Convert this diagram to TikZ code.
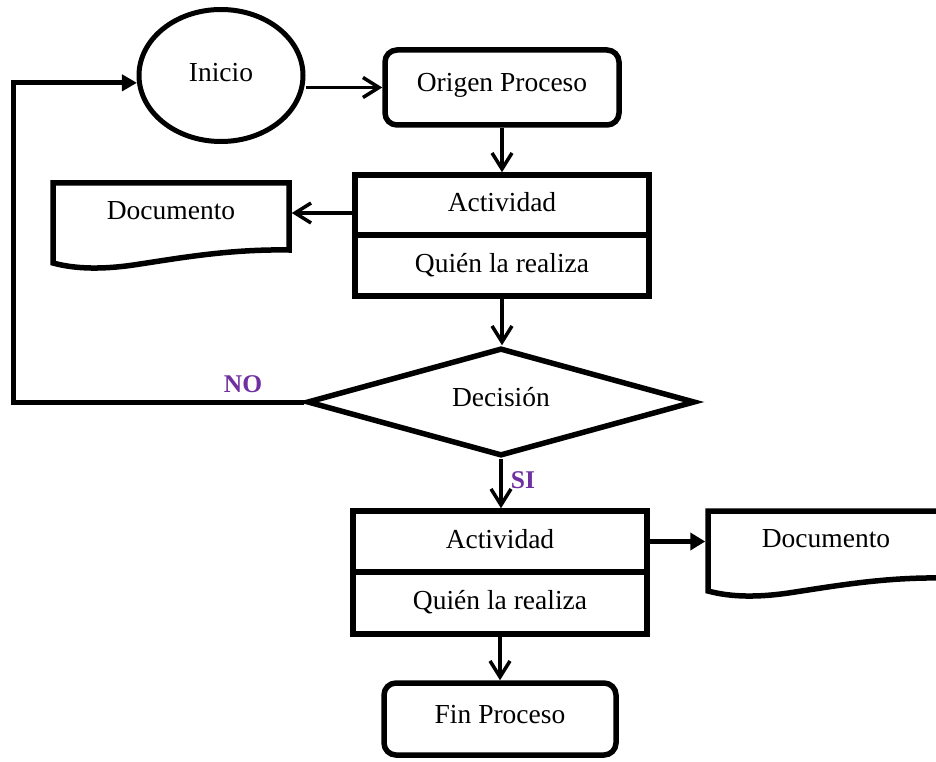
\documentclass[tikz,border=0pt]{standalone}
\usepackage{fontspec}
\setmainfont{Liberation Serif}
\usetikzlibrary{shapes.geometric,arrows.meta}
\definecolor{answerpurple}{HTML}{7030A0}
\tikzset{
  box/.style={draw, line width=5.5pt, inner sep=0pt,
    font=\fontsize{27.5}{33}\selectfont, text height=19pt, text depth=6pt},
  roundbox/.style={box, rounded corners=12pt, minimum width=234pt,
    minimum height=75pt, text depth=10pt},
  actbox/.style={box, minimum width=294pt, minimum height=61pt},
  startoval/.style={box, ellipse, line width=5pt, minimum width=164pt,
    minimum height=132pt},
  choice/.style={box, diamond, shape aspect=3.6, minimum width=388pt,
    minimum height=108pt, text depth=10pt},
  doclabel/.style={inner sep=0pt, outer sep=2.75pt, minimum width=236pt,
    minimum height=60pt, font=\fontsize{27.5}{33}\selectfont,
    text height=19pt, text depth=6pt},
  docline/.style={line width=5.5pt},
  flow/.style={line width=3.5pt, -{Straight Barb[length=16pt,width=20pt]}},
  heavyflow/.style={line width=5pt, -{Triangle[length=15pt,width=16pt]}},
  answer/.style={font=\bfseries\fontsize{25.5}{30}\selectfont, text=answerpurple},
  docshape/.pic={
    \draw[docline] (0,80) -- (0,0) -- (236,0) -- (236,67)
      .. controls (177,66) and (127,75) .. (87,81)
      .. controls (50,87) and (22,86) .. (0,80) -- cycle;
  }
}
\begin{document}
\begin{tikzpicture}[x=1pt,y=-1pt]
  \path[use as bounding box] (0,0) rectangle (936,762);
  \clip (0,0) rectangle (936,762);

  % process shapes
  \node[startoval] (inicio) at (221,75.5) {Inicio};
  \node[roundbox] (origen) at (502,87.5) {Origen Proceso};
  \node[actbox, minimum height=60pt] (act1) at (502,205) {Actividad};
  \node[actbox] (who1) at (502,265.5) {Quién la realiza};
  \node[choice] (dec) at (501,402) {Decisión};
  \node[actbox] (act2) at (500,541.5) {Actividad};
  \node[actbox, minimum height=62pt] (who2) at (500,603) {Quién la realiza};
  \node[roundbox, minimum width=232pt, minimum height=72pt] (fin) at (500,719) {Fin Proceso};

  % documents
  \pic at (53,183) {docshape};
  \pic at (708,511) {docshape};
  \node[doclabel] (doc1) at (171,213) {Documento};
  \node[doclabel] (doc2) at (826,541) {Documento};

  % branch labels
  \node[answer] (nolabel) at (243,384) {NO};
  \node[answer] (silabel) at (523,480) {SI};

  % connectors
  \coordinate (bend) at (13,402);
  \draw[flow] (inicio.east |- origen.west) -- (origen.west);
  \draw[flow] (origen.south) -- (act1.north);
  \draw[flow] (act1.west |- doc1.east) -- (doc1.east);
  \draw[flow] (who1.south) -- (who1.south |- dec.north);
  \draw[heavyflow] (dec.west) -- (bend) |- (inicio.185);
  \draw[flow] (dec.south) -- (dec.south |- act2.north);
  \draw[heavyflow, line width=5.5pt, -{Triangle[length=15pt,width=17pt]}]
    (act2.east) -- (act2.east -| doc2.west);
  \draw[flow] (who2.south) -- (fin.north);
\end{tikzpicture}
\end{document}
